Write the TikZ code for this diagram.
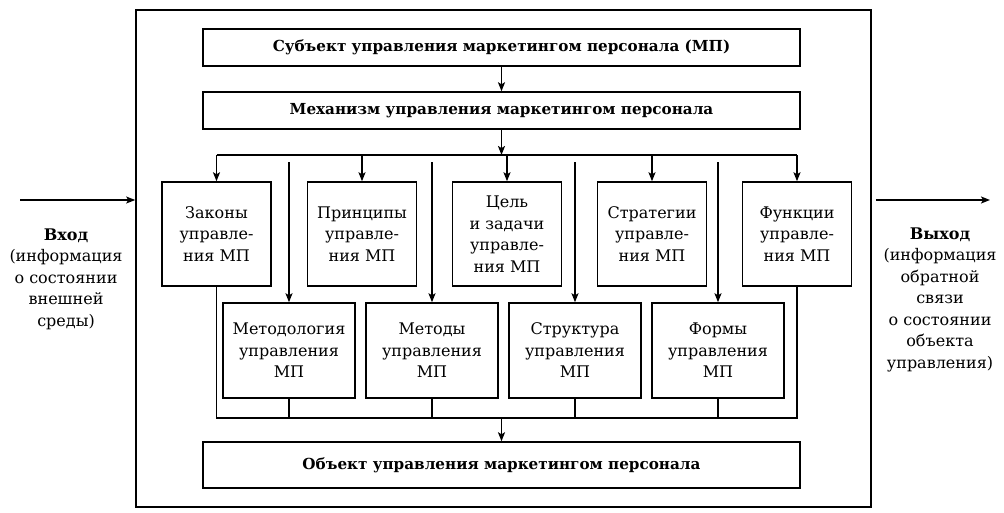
\documentclass[tikz,border=0pt]{standalone}
\usepackage{fontspec}
\setmainfont{DejaVu Serif}
\usetikzlibrary{arrows,arrows.meta}

\begin{document}
\begin{tikzpicture}[x=1pt,y=-1pt,font=\fontsize{16}{21.5}\selectfont,
  wide/.style={draw,line width=1.5pt,minimum width=597pt,minimum height=#1,font=\fontsize{15.2}{21.5}\selectfont\bfseries},
  upbox/.style={draw,line width=1.5pt,minimum width=109pt,minimum height=104pt,align=center,inner sep=0pt},
  lowbox/.style={draw,line width=1.5pt,minimum width=132pt,minimum height=95pt,align=center,inner sep=0pt},
  link/.style={line width=1.4pt},
  arr/.style={link,-{Stealth[length=9pt,width=7pt,inset=2pt]}}]
\useasboundingbox (0,0) rectangle (1004,512);
\node[draw,line width=1.6pt,minimum width=735pt,minimum height=497pt] (frame) at (503.5,258.5) {};
% top and bottom blocks
\node[wide=37pt] (subj) at (501.5,47.5) {Субъект управления маркетингом персонала (МП)};
\node[wide=37pt] (mech) at (501.5,110.5) {Механизм управления маркетингом персонала};
\node[wide=46pt] (obj) at (501.5,465) {Объект управления маркетингом персонала};
% upper row
\node[upbox] (laws) at (216.5,234) {Законы\\управле-\\ния МП};
\node[upbox] (princ) at (362,234) {Принципы\\управле-\\ния МП};
\node[upbox] (goal) at (507,234) {Цель\\и задачи\\управле-\\ния МП};
\node[upbox] (strat) at (652,234) {Стратегии\\управле-\\ния МП};
\node[upbox] (func) at (797,234) {Функции\\управле-\\ния МП};
% lower row
\node[lowbox] (methodol) at (289,350.5) {Методология\\управления\\МП};
\node[lowbox] (methods) at (432,350.5) {Методы\\управления\\МП};
\node[lowbox] (struct) at (575,350.5) {Структура\\управления\\МП};
\node[lowbox] (forms) at (718,350.5) {Формы\\управления\\МП};
% bus lines
\coordinate (bus) at (0,155);
\coordinate (drop) at (0,162);
\coordinate (coll) at (0,418);
\draw[arr] (subj) -- (mech);
\draw[arr] (mech.south) -- (mech.south |- bus);
\draw[link] (laws.north |- bus) -- (func.north |- bus);
\foreach \b in {laws,princ,goal,strat,func}{\draw[arr] (\b.north |- bus) -- (\b.north);}
\foreach \b in {methodol,methods,struct,forms}{\draw[arr] (\b.north |- drop) -- (\b.north);}
\draw[link] (laws.south) -- (laws.south |- coll) -- (func.south |- coll) -- (func.south);
\foreach \b in {methodol,methods,struct,forms}{\draw[link] (\b.south) -- (\b.south |- coll);}
\draw[arr] (obj.north |- coll) -- (obj.north);
% input and output
\coordinate (in) at (20,200);
\coordinate (out) at (990,200);
\draw[arr] (in) -- (in -| frame.west);
\draw[arr] (out -| frame.east) ++(4,0) -- (out);
\node[align=center] (inlabel) at (66,279) {\textbf{Вход}\\(информация\\о состоянии\\внешней\\среды)};
\node[align=center] (outlabel) at (940,299.5) {\textbf{Выход}\\(информация\\обратной\\связи\\о состоянии\\объекта\\управления)};
\end{tikzpicture}
\end{document}
